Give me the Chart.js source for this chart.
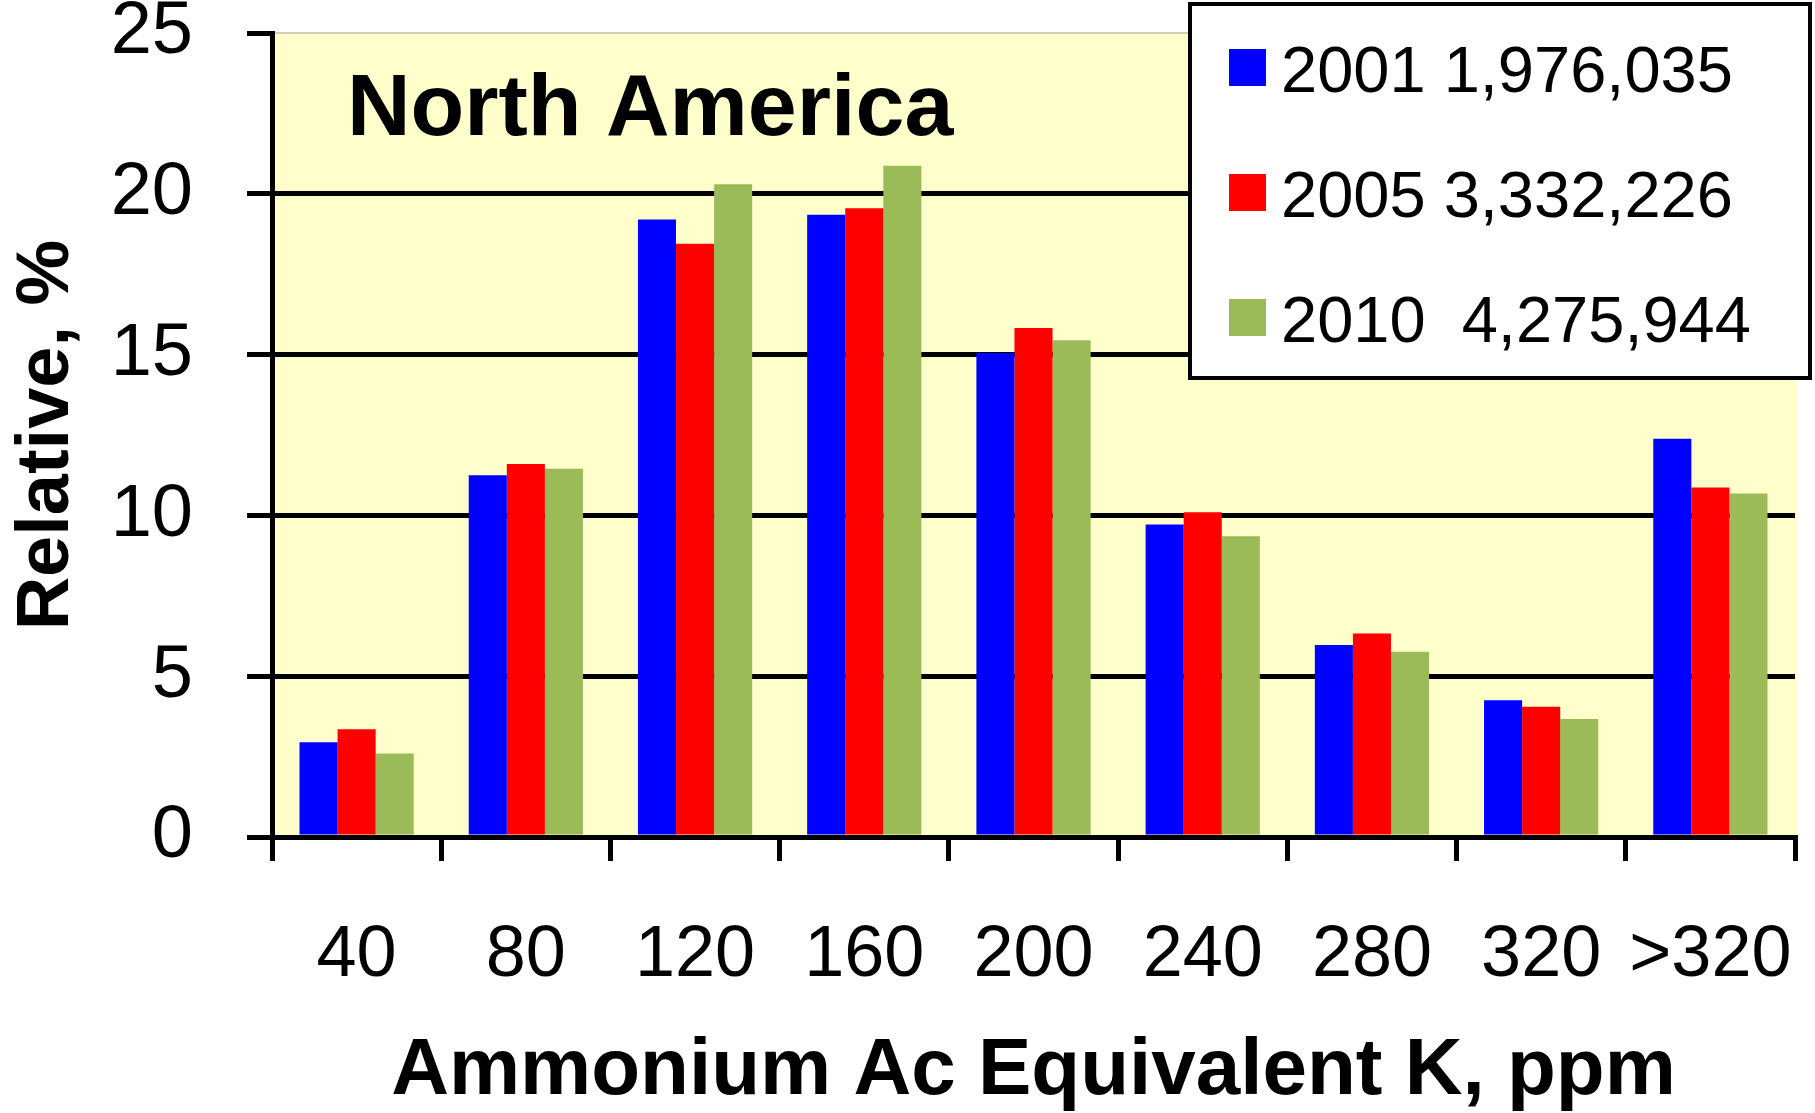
<!DOCTYPE html>
<html>
<head>
<meta charset="utf-8">
<script src="https://cdn.jsdelivr.net/npm/chart.js@4/dist/chart.umd.min.js"></script>
<style>
  html, body { margin: 0; padding: 0; background: #ffffff; }
  #c { display: block; }
</style>
</head>
<body>
<canvas id="c" width="1815" height="1113"></canvas>
<script>
const categories = ['40', '80', '120', '160', '200', '240', '280', '320', '>320'];
const series2001 = [2.95, 11.25, 19.2, 19.35, 15.05, 9.72, 5.97, 4.25, 12.38];
const series2005 = [3.35, 11.6, 18.45, 19.55, 15.83, 10.1, 6.33, 4.05, 10.87];
const series2010 = [2.6, 11.45, 20.3, 20.87, 15.45, 9.35, 5.76, 3.67, 10.68];
const seriesLabels = ['2001 1,976,035', '2005 3,332,226', '2010  4,275,944'];
const seriesColors = ['#0000FF', '#FF0000', '#9BBB59'];
const yTickValues = [0, 5, 10, 15, 20, 25];
const chartTitle = 'North America';
const xTitle = 'Ammonium Ac Equivalent K, ppm';
const yTitle = 'Relative, %';

const FONT = "'Liberation Sans', Arial, Helvetica, sans-serif";

const decorPlugin = {
  id: 'decor',
  beforeDraw(chart) {
    const ctx = chart.ctx;
    const a = chart.chartArea;
    ctx.save();
    ctx.fillStyle = '#ffffff';
    ctx.fillRect(0, 0, chart.width, chart.height);
    ctx.fillStyle = '#FFFFCC';
    ctx.fillRect(a.left, a.top, a.right - a.left + 2, a.bottom - a.top);
    ctx.strokeStyle = '#d0d0c0';
    ctx.lineWidth = 2;
    ctx.beginPath();
    ctx.moveTo(a.left, a.top);
    ctx.lineTo(a.right + 2, a.top);
    ctx.stroke();
    ctx.restore();
  },
  afterDraw(chart) {
    const ctx = chart.ctx;
    ctx.save();
    // inner title
    ctx.fillStyle = '#000';
    ctx.font = 'bold 88px ' + FONT;
    ctx.textBaseline = 'alphabetic';
    ctx.textAlign = 'left';
    ctx.fillText(chartTitle, 347, 135);

    // legend box
    const bx = 1190, by = 4, bw = 620, bh = 374;
    ctx.fillStyle = '#ffffff';
    ctx.fillRect(bx, by, bw, bh);
    ctx.strokeStyle = '#000';
    ctx.lineWidth = 4;
    ctx.strokeRect(bx, by, bw, bh);
    const baselines = [92, 217, 342];
    ctx.font = '65px ' + FONT;
    chart.data.datasets.forEach((ds, i) => {
      const base = baselines[i];
      ctx.fillStyle = ds.backgroundColor;
      ctx.fillRect(1229, base - 43, 37, 37);
      ctx.fillStyle = '#000';
      ctx.fillText(ds.label, 1281, base);
    });
    ctx.restore();
  }
};

new Chart(document.getElementById('c'), {
  type: 'bar',
  data: {
    labels: categories,
    datasets: [
      { label: seriesLabels[0], data: series2001, backgroundColor: seriesColors[0] },
      { label: seriesLabels[1], data: series2005, backgroundColor: seriesColors[1] },
      { label: seriesLabels[2], data: series2010, backgroundColor: seriesColors[2] }
    ]
  },
  options: {
    responsive: false,
    animation: false,
    devicePixelRatio: 1,
    layout: { padding: { top: 33, right: 20, left: 0, bottom: 0 } },
    datasets: { bar: { categoryPercentage: 0.675, barPercentage: 1.0, borderWidth: 0 } },
    plugins: { legend: { display: false }, tooltip: { enabled: false }, title: { display: false } },
    scales: {
      x: {
        z: 1,
        grid: { offset: true, drawOnChartArea: false, drawTicks: true, tickLength: 24, color: '#000', lineWidth: 5 },
        border: { display: true, color: '#000', width: 5 },
        ticks: { color: '#000', font: { family: FONT, size: 72 }, padding: 52, maxRotation: 0, minRotation: 0, autoSkip: false },
        title: { display: true, text: xTitle, color: '#000', font: { family: FONT, size: 80, weight: 'bold', lineHeight: 1 }, padding: { top: 0, bottom: 1 } },
        afterFit(scale) {
          scale.height = 1113 - 837;
          scale.paddingLeft = 0; scale.paddingRight = 0; scale.paddingTop = 0; scale.paddingBottom = 0;
        }
      },
      y: {
        min: 0,
        max: 25,
        afterBuildTicks(scale) { scale.ticks = yTickValues.map(v => ({ value: v })); },
        grid: {
          color: (c) => (c.tick && c.tick.value > 0 && c.tick.value < 25) ? '#000' : 'rgba(0,0,0,0)',
          tickColor: '#000',
          lineWidth: 5,
          drawTicks: true,
          tickLength: 25
        },
        border: { display: true, color: '#000', width: 5 },
        ticks: { color: '#000', font: { family: FONT, size: 74 }, padding: 54 },
        title: { display: true, text: yTitle, color: '#000', font: { family: FONT, size: 74, weight: 'bold', lineHeight: 1 }, padding: { top: 11, bottom: 0 } },
        afterFit(scale) {
          scale.width = 272;
          scale.paddingLeft = 0; scale.paddingRight = 0; scale.paddingTop = 0; scale.paddingBottom = 0;
        }
      }
    }
  },
  plugins: [decorPlugin]
});
</script>
</body>
</html>
